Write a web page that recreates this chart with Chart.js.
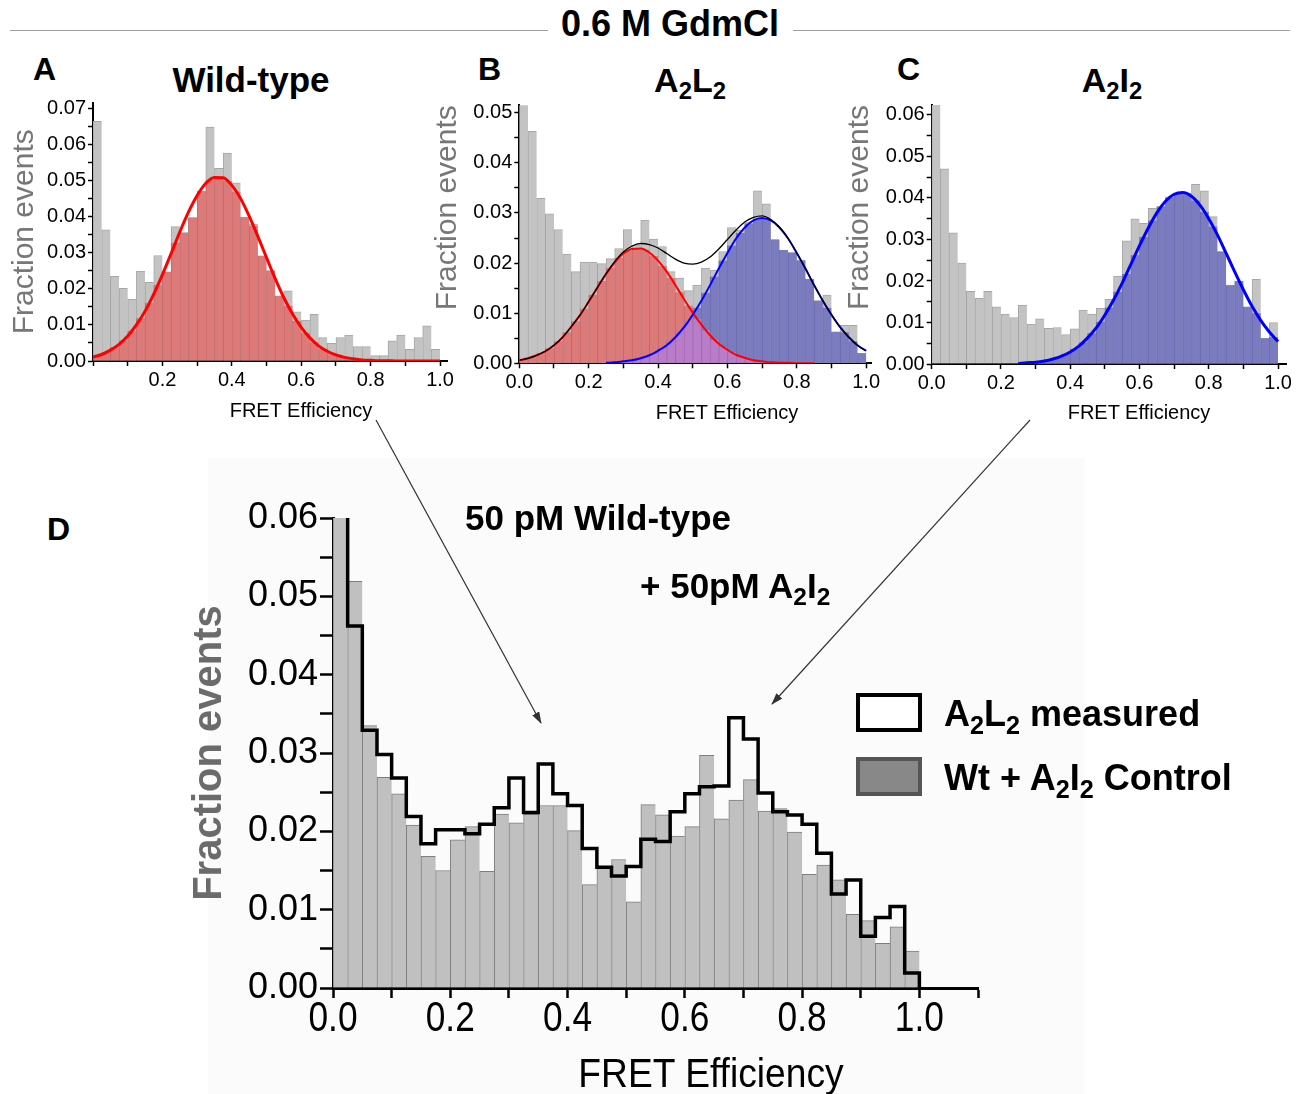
<!DOCTYPE html>
<html><head><meta charset="utf-8">
<script src="https://cdn.jsdelivr.net/npm/chart.js@4.4.1/dist/chart.umd.min.js"></script>
<style>
html,body{margin:0;padding:0;background:#fff;}
body{width:1307px;height:1094px;position:relative;overflow:hidden;font-family:"Liberation Sans",Arial,Helvetica,sans-serif;color:#000;}
.t{position:absolute;white-space:nowrap;line-height:1;}
.b{font-weight:bold;}
.c{transform:translateX(-50%);}
sub{font-size:70%;vertical-align:-0.3em;line-height:0;}
canvas{position:absolute;}
</style></head><body>
<div style="position:absolute;left:208px;top:458px;width:877px;height:636px;background:#fbfbfb"></div>
<div style="position:absolute;left:10px;top:30px;width:538px;height:1px;background:#a0a0a0"></div>
<div style="position:absolute;left:793px;top:30px;width:497px;height:1px;background:#a0a0a0"></div>
<div class="t b c" style="left:670px;top:6px;font-size:36px">0.6 M GdmCl</div>
<div class="t b" style="left:33px;top:53px;font-size:32px">A</div>
<div class="t b" style="left:478px;top:53px;font-size:32px">B</div>
<div class="t b" style="left:897px;top:53px;font-size:32px">C</div>
<div class="t b" style="left:47px;top:513px;font-size:32px">D</div>
<div class="t b c" style="left:251px;top:62px;font-size:35px">Wild-type</div>
<div class="t b c" style="left:690px;top:63px;font-size:34px">A<sub>2</sub>L<sub>2</sub></div>
<div class="t b c" style="left:1112px;top:63px;font-size:34px">A<sub>2</sub>I<sub>2</sub></div>

<canvas id="cA" width="460" height="320" style="left:0px;top:95px"></canvas>
<canvas id="cB" width="460" height="320" style="left:430px;top:95px"></canvas>
<canvas id="cC" width="460" height="320" style="left:840px;top:95px"></canvas>
<canvas id="cD" width="820" height="560" style="left:170px;top:500px"></canvas>

<div class="t c" style="left:301px;top:400px;font-size:20px">FRET Efficiency</div>
<div class="t c" style="left:727px;top:402px;font-size:20px">FRET Efficiency</div>
<div class="t c" style="left:1139px;top:402px;font-size:20px">FRET Efficiency</div>
<div class="t" style="left:711px;top:1053px;font-size:40px;transform:translateX(-50%) scaleX(0.93)">FRET Efficiency</div>

<div class="t b" style="left:465px;top:500px;font-size:35px">50 pM Wild-type</div>
<div class="t b" style="left:640px;top:568px;font-size:35px">+ 50pM A<sub>2</sub>I<sub>2</sub></div>

<div style="position:absolute;left:856px;top:693px;width:58px;height:31px;border:4px solid #000;background:#fff"></div>
<div style="position:absolute;left:856px;top:757px;width:58px;height:31px;border:4px solid #555;background:#888"></div>
<div class="t b" style="left:944px;top:696px;font-size:36px">A<sub>2</sub>L<sub>2</sub> measured</div>
<div class="t b" style="left:944px;top:760px;font-size:36px">Wt + A<sub>2</sub>I<sub>2</sub> Control</div>

<svg width="1307" height="1094" style="position:absolute;left:0;top:0;pointer-events:none">
<defs><marker id="ah" markerWidth="12" markerHeight="8" refX="11" refY="4" orient="auto" markerUnits="userSpaceOnUse"><path d="M0,0 L12,4 L0,8 z" fill="#333"/></marker></defs>
<line x1="376" y1="420" x2="541" y2="723" stroke="#333" stroke-width="1.2" marker-end="url(#ah)"/>
<line x1="1030" y1="420" x2="772" y2="704" stroke="#333" stroke-width="1.2" marker-end="url(#ah)"/>
</svg>

<script>
// ---------------- data ----------------
const nBins = 40;
const binWidth = 0.025;

// Panel A: Wild-type
const wtCounts = [.0663,.0363,.0234,.0201,.0171,.0249,.0218,.0292,.0247,.0372,
                  .0355,.0397,.0470,.0647,.0533,.0575,.0493,.0398,.0379,.0291,
                  .0250,.0180,.0194,.0136,.0113,.0129,.0065,.0049,.0065,.0072,
                  .0040,.0040,.0015,.0015,.0056,.0072,.0032,.0065,.0097,.0032];
const wtUnderFit = [.0014,.0024,.0038,.0057,.0084,.0118,.0161,.0211,.0247,.0327,
                    .0355,.0397,.0470,.0501,.0509,.0498,.0469,.0398,.0374,.0291,
                    .0250,.0180,.0152,.0111,.0078,.0052,.0034,.0021,.0013,.0008,
                    .0004,.0002,.0001,0,0,0,0,0,0,0];
const wtFit = [.0011,.0018,.0030,.0046,.0069,.0100,.0138,.0185,.0239,.0297,
               .0357,.0412,.0458,.0492,.0508,.0507,.0486,.0450,.0401,.0345,
               .0286,.0228,.0175,.0130,.0093,.0064,.0042,.0027,.0017,.0010,
               .0006,.0003,.0002,.0001,.0001,0,0,0,0,0,0];

// Panel B: A2L2
const a2l2Counts = [.0518,.0463,.0329,.0298,.0267,.0218,.0183,.0202,.0202,.0199,
                    .0209,.0229,.0267,.0236,.0286,.0248,.0233,.0183,.0170,.0145,
                    .0156,.0190,.0186,.0223,.0271,.0266,.0281,.0344,.0318,.0247,
                    .0226,.0221,.0206,.0168,.0125,.0136,.0063,.0076,.0076,.0020];
const a2l2UnderLow = [.0008,.0012,.0020,.0030,.0044,.0062,.0084,.0109,.0137,.0164,
                      .0190,.0210,.0224,.0229,.0226,.0214,.0194,.0170,.0142,.0115,
                      .0089,.0066,.0047,.0033,.0022,.0014,.0008,.0005,.0003,.0002,
                      .0001,0,0,0,0,0,0,0,0,0];
const a2l2UnderHigh = [0,0,0,0,0,0,0,0,0,.0001,
                       .0002,.0003,.0005,.0008,.0013,.0020,.0030,.0044,.0062,.0084,
                       .0111,.0141,.0173,.0205,.0235,.0260,.0279,.0288,.0288,.0247,
                       .0226,.0221,.0205,.0168,.0125,.0111,.0063,.0062,.0044,.0020];
const a2l2UnderBoth = [0,0,0,0,0,0,0,0,0,.0001,
                       .0002,.0003,.0005,.0008,.0013,.0020,.0030,.0044,.0062,.0084,
                       .0089,.0066,.0047,.0033,.0022,.0014,.0008,.0005,.0003,.0002,
                       .0001,0,0,0,0,0,0,0,0,0];
const a2l2FitLow = [.0006,.0010,.0016,.0024,.0036,.0052,.0073,.0096,.0123,.0151,
                    .0178,.0201,.0219,.0228,.0229,.0221,.0205,.0183,.0156,.0128,
                    .0101,.0077,.0056,.0039,.0027,.0017,.0011,.0006,.0004,.0002,
                    .0001,.0001,0,0,0,null,null,null,null,null,null];
const a2l2FitHigh = [null,null,null,null,null,null,null,null,null,null,
                     .0001,.0002,.0004,.0006,.0010,.0016,.0025,.0036,.0052,.0072,
                     .0097,.0125,.0156,.0189,.0220,.0249,.0271,.0285,.0290,.0285,
                     .0271,.0249,.0220,.0189,.0156,.0125,.0097,.0072,.0052,.0036,.0025];
const a2l2FitSum = [.0006,.0010,.0016,.0024,.0036,.0052,.0073,.0096,.0123,.0151,
                    .0179,.0203,.0222,.0234,.0239,.0237,.0230,.0219,.0208,.0200,
                    .0198,.0202,.0212,.0228,.0247,.0266,.0282,.0291,.0294,.0287,
                    .0272,.0249,.0220,.0189,.0156,.0125,.0097,.0072,.0052,.0036,.0025];

// Panel C: A2I2
const a2i2Counts = [.0630,.0470,.0316,.0243,.0175,.0158,.0175,.0138,.0120,.0112,
                    .0142,.0096,.0109,.0086,.0088,.0071,.0085,.0130,.0120,.0134,
                    .0156,.0212,.0297,.0350,.0339,.0375,.0380,.0403,.0410,.0412,
                    .0433,.0417,.0355,.0271,.0190,.0200,.0138,.0204,.0062,.0100];
const a2i2UnderFit = [0,0,0,0,0,0,0,0,.0001,.0001,
                      .0002,.0003,.0006,.0009,.0015,.0024,.0036,.0052,.0074,.0102,
                      .0136,.0174,.0217,.0262,.0306,.0346,.0378,.0401,.0410,.0409,
                      .0394,.0367,.0331,.0271,.0190,.0200,.0138,.0122,.0062,.0065];
const a2i2Fit = [null,null,null,null,null,null,null,null,null,null,
                 .0001,.0003,.0004,.0007,.0012,.0019,.0029,.0043,.0063,.0087,
                 .0118,.0154,.0195,.0240,.0285,.0327,.0364,.0392,.0409,.0413,
                 .0404,.0382,.0350,.0311,.0267,.0222,.0179,.0139,.0105,.0077,.0054];

// Panel D: 50 pM Wild-type + 50 pM A2I2
const controlCounts = [.0620,.0519,.0335,.0269,.0248,.0208,.0168,.0150,.0189,.0206,
                       .0149,.0222,.0211,.0222,.0233,.0233,.0201,.0132,.0154,.0164,
                       .0110,.0234,.0221,.0194,.0206,.0297,.0216,.0240,.0266,.0226,
                       .0229,.0199,.0145,.0157,.0138,.0094,.0086,.0057,.0078,.0047];
const measuredCounts = [.0620,.0462,.0329,.0298,.0268,.0219,.0184,.0202,.0202,.0197,
                        .0209,.0230,.0268,.0224,.0286,.0248,.0233,.0178,.0154,.0143,
                        .0155,.0190,.0187,.0225,.0248,.0257,.0258,.0345,.0318,.0249,
                        .0225,.0221,.0209,.0172,.0120,.0138,.0066,.0090,.0104,.0019];

// ---------------- helpers ----------------
const binCenters = Array.from({length: nBins}, (_, i) => (i + 0.5) * binWidth);
const binStarts = Array.from({length: nBins}, (_, i) => i * binWidth);
const curveX = Array.from({length: nBins + 1}, (_, i) => i * binWidth);
const FONT = '"Liberation Sans", Arial, Helvetica, sans-serif';
Chart.defaults.font.family = FONT;

function bars(vals, bg, bc, order, bw) {
  return {type: 'bar', data: vals.map((v, i) => ({x: binCenters[i], y: v})),
    backgroundColor: bg, borderColor: bc, borderWidth: bw, grouped: false,
    barPercentage: 1, categoryPercentage: 1, order};
}
function curve(vals, color, w, order) {
  return {type: 'line', data: vals.map((v, i) => ({x: curveX[i], y: v})).filter(p => p.y !== null),
    borderColor: color, borderWidth: w, pointRadius: 0, fill: false,
    cubicInterpolationMode: 'monotone', order};
}
const near = (v, step) => Math.abs(v / step - Math.round(v / step)) < 1e-6;

// draws the x tick labels of a scale horizontally condensed (panel D)
const condensedX = {
  id: 'condensedX',
  afterDraw(chart, args, o) {
    const s = chart.scales.x, ctx = chart.ctx;
    ctx.save();
    ctx.fillStyle = '#000';
    ctx.font = o.size + 'px ' + FONT;
    ctx.textAlign = 'center';
    ctx.textBaseline = 'top';
    s.ticks.forEach(t => {
      if (!near(t.value, 0.2) || t.value > 1.0001) return;
      const px = s.getPixelForValue(t.value);
      ctx.save();
      ctx.translate(px, chart.chartArea.bottom + o.offset);
      ctx.scale(o.sx, 1);
      ctx.fillText(t.value.toFixed(1), 0, 0);
      ctx.restore();
    });
    ctx.restore();
  }
};

function scales(o) {
  return {
    x: {type: 'linear', min: 0, max: o.xMax, offset: false,
      grid: {display: true, drawOnChartArea: false, drawTicks: true, offset: false,
             tickLength: o.xTL, tickWidth: o.tickW, tickColor: '#000'},
      border: {display: true, color: '#000', width: o.axisW},
      ticks: {stepSize: 0.1, includeBounds: false, autoSkip: false, maxRotation: 0, minRotation: 0,
        padding: o.xPad, color: o.xColor || '#000', font: o.xFont,
        callback: (v) => (near(v, 0.2) && (o.zero || v > 1e-9)) ? v.toFixed(1) : ''},
      afterBuildTicks: s => { s.ticks = s.ticks.filter(t => near(t.value, 0.1)); },
      afterFit: s => { s.height = o.xH; s.paddingLeft = 0; s.paddingRight = 0; }
    },
    y: {type: 'linear', min: 0, max: o.yMax,
      grid: {display: true, drawOnChartArea: false, drawTicks: true,
             tickLength: o.yTL, tickWidth: o.tickW, tickColor: '#000'},
      border: {display: true, color: '#000', width: o.axisW},
      ticks: {stepSize: 0.005, includeBounds: false, autoSkip: false, padding: o.yPad, color: '#000', font: o.yFont,
        callback: (v) => near(v, 0.01) ? v.toFixed(2) : ''},
      title: {display: true, text: 'Fraction events', color: o.titleColor, font: o.titleFont,
              padding: {top: o.titlePad, bottom: 0}, align: o.titleAlign},
      afterBuildTicks: s => { s.ticks = s.ticks.filter(t => near(t.value, 0.005)); },
      afterFit: s => { s.width = o.yW; s.paddingTop = 0; s.paddingBottom = 0; }
    }
  };
}
function opts(o, extraPlugins) {
  return {responsive: false, animation: false, events: [],
    layout: {padding: {left: 0, right: o.pr, top: o.pt, bottom: 0}},
    plugins: Object.assign({legend: {display: false}, tooltip: {enabled: false}}, extraPlugins || {}),
    scales: scales(o)};
}
const small = {tickW: 1.5, axisW: 2, xTL: 5, yTL: 5, xPad: 2, yPad: 2,
  xFont: {size: 20}, yFont: {size: 20}, titleColor: '#777', titleFont: {size: 30}};

const GRAY = '#c3c3c3', GRAYB = '#a6a6a6';
const RED = '#dc7a7a', REDB = '#c46868';
const BLUE = '#7b7bbf', BLUEB = '#6a6aae';
const PURP = '#b87cc8', PURPB = '#a46ab4';
const bwG = {left: 1, top: 1, right: 0, bottom: 0};
const bwC = {left: 1, top: 0, right: 0, bottom: 0};

new Chart(document.getElementById('cA'), {type: 'bar',
  data: {datasets: [
    curve(wtFit, '#ff0000', 3, 0),
    bars(wtUnderFit, RED, REDB, 1, bwC),
    bars(wtCounts, GRAY, GRAYB, 2, bwG)]},
  options: opts(Object.assign({}, small, {xMax: 1.02, yMax: 0.0715, zero: false,
    pr: 13, pt: 7.6, yW: 93, xH: 54, titlePad: 7, titleAlign: 'center'}))});

new Chart(document.getElementById('cB'), {type: 'bar',
  data: {datasets: [
    curve(a2l2FitSum, '#000000', 1.3, 0),
    curve(a2l2FitHigh, '#0000ff', 2, 1),
    curve(a2l2FitLow, '#ff0000', 2, 2),
    bars(a2l2UnderBoth, PURP, PURPB, 3, bwC),
    bars(a2l2UnderHigh, BLUE, BLUEB, 4, bwC),
    bars(a2l2UnderLow, RED, REDB, 5, bwC),
    bars(a2l2Counts, GRAY, GRAYB, 6, bwG)]},
  options: opts(Object.assign({}, small, {xMax: 1.016, yMax: 0.0515, zero: true,
    pr: 18.3, pt: 10.2, yW: 89.3, xH: 51.7, titlePad: 0, titleAlign: 'end'}))});

new Chart(document.getElementById('cC'), {type: 'bar',
  data: {datasets: [
    curve(a2i2Fit, '#0000ff', 3, 0),
    bars(a2i2UnderFit, BLUE, BLUEB, 1, bwC),
    bars(a2i2Counts, GRAY, GRAYB, 2, bwG)]},
  options: opts(Object.assign({}, small, {xMax: 1.025, yMax: 0.0624, zero: true,
    pr: 13.3, pt: 10, yW: 91.7, xH: 51, titlePad: 2, titleAlign: 'end'}))});

const stepData = binStarts.map((x, i) => ({x, y: measuredCounts[i]})).concat([{x: nBins * binWidth, y: 0}]);
new Chart(document.getElementById('cD'), {type: 'bar',
  plugins: [condensedX],
  data: {datasets: [
    {type: 'line', data: stepData, stepped: 'before', borderColor: '#000', borderWidth: 3.5,
     pointRadius: 0, fill: false, borderJoinStyle: 'miter', order: 0},
    bars(controlCounts, '#c0c0c0', '#7e7e7e', 1, bwG)]},
  options: opts({tickW: 2.5, axisW: 3, xTL: 10, yTL: 13, xPad: 0, yPad: 2,
    xFont: {size: 42}, xColor: 'rgba(0,0,0,0)', yFont: {size: 36}, titleColor: '#6b6b6b',
    titleFont: {size: 40, weight: 'bold'}, xMax: 1.1, yMax: 0.06, zero: true,
    pr: 12, pt: 18, yW: 163, xH: 72, titlePad: 16, titleAlign: 'center'},
    {condensedX: {size: 42, sx: 0.84, offset: 10}})});
</script>
</body></html>
